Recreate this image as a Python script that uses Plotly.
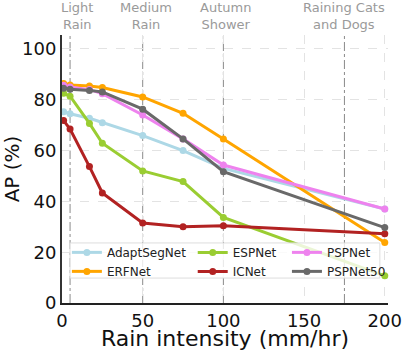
import plotly.graph_objects as go

# rain intensity (mm/hr) at which each model was evaluated
rain = [1, 5, 17, 25, 50, 75, 100, 200]

ap_adaptsegnet = [75.3, 74.5, 72.7, 71.0, 65.9, 60.0, 53.0, 37.0]
ap_erfnet = [86.4, 85.8, 85.4, 84.8, 81.1, 74.7, 64.6, 23.8]
ap_espnet = [82.6, 81.4, 70.7, 62.9, 52.0, 47.8, 33.7, 10.7]
ap_icnet = [71.8, 68.5, 53.7, 43.3, 31.5, 30.0, 30.4, 27.3]
ap_pspnet = [85.7, 85.0, 84.0, 82.4, 74.0, 64.6, 54.3, 37.0]
ap_pspnet50 = [84.5, 84.1, 83.7, 83.1, 76.3, 64.6, 51.7, 29.7]

y_ticks = [0, 20, 40, 60, 80, 100]
x_ticks = [0, 50, 100, 150, 200]

# named rain levels marked on top of the chart
levels = [5, 50, 100, 175]
level_names = ["Light<br>Rain", "Medium<br>Rain", "Autumn<br>Shower", "Raining Cats<br>and Dogs"]
level_label_x = [9, 52, 101, 175]

FONT = "DejaVu Sans"

series = [
    ("AdaptSegNet", ap_adaptsegnet, "#add8e6", "legend"),
    ("ERFNet", ap_erfnet, "#ffa500", "legend"),
    ("ESPNet", ap_espnet, "#9acd32", "legend2"),
    ("ICNet", ap_icnet, "#b22222", "legend2"),
    ("PSPNet", ap_pspnet, "#ee82ee", "legend3"),
    ("PSPNet50", ap_pspnet50, "#696969", "legend3"),
]

fig = go.Figure()
for name, vals, color, leg in series:
    fig.add_trace(go.Scatter(
        x=rain, y=vals, name=name, mode="lines+markers",
        line=dict(color=color, width=3),
        marker=dict(color=color, size=7),
        legend=leg, cliponaxis=False,
    ))

for lv in levels:
    fig.add_shape(type="line", x0=lv, x1=lv, y0=0, y1=1, xref="x", yref="paper",
                  line=dict(color="#8a8a8a", width=1, dash="dashdot"), layer="below")

for lx, txt in zip(level_label_x, level_names):
    fig.add_annotation(x=lx, y=1, xref="x", yref="paper", yanchor="bottom",
                       text=txt, showarrow=False, yshift=1,
                       font=dict(family=FONT, size=13, color="#9a9a9a"))

# legend frame (three legends side by side, one per column)
fig.add_shape(type="rect", xref="paper", yref="paper",
              x0=0.0245, x1=0.975, y0=0.093, y1=0.224,
              fillcolor="rgba(255,255,255,0.8)", line=dict(color="#dddddd", width=1),
              layer="above")

leg_common = dict(font=dict(family=FONT, size=12, color="#222"),
                  bgcolor="rgba(0,0,0,0)", borderwidth=0,
                  yanchor="top", y=0.243, xanchor="left")

fig.update_layout(
    width=403, height=351,
    template="none",
    paper_bgcolor="white", plot_bgcolor="white",
    font=dict(family=FONT, color="#111"),
    margin=dict(l=62, r=15, t=35, b=48),
    legend=dict(x=0.015, **leg_common),
    legend2=dict(x=0.401, **leg_common),
    legend3=dict(x=0.69, **leg_common),
    xaxis=dict(
        range=[0, 202], tickvals=x_ticks, ticks="", automargin=False,
        tickfont=dict(size=18), showgrid=True, gridcolor="#e3e3e3", griddash="dash",
        gridwidth=1, zeroline=False, showline=True, linecolor="#222", linewidth=2,
        title=dict(text="Rain intensity (mm/hr)", font=dict(size=22), standoff=0),
    ),
    yaxis=dict(
        range=[0, 105.5], tickvals=y_ticks, ticks="", automargin=False,
        tickfont=dict(size=18), showgrid=True, gridcolor="#e3e3e3", griddash="dash",
        gridwidth=1, zeroline=False, showline=True, linecolor="#333", linewidth=2,
        title=dict(text="AP (%)", font=dict(size=20), standoff=4),
    ),
)

# the page body has a default 8px margin; drop it so the figure sits at the corner
fig.write_html("out.html", config={"displayModeBar": False},
               post_script="document.body.style.margin='0';")
